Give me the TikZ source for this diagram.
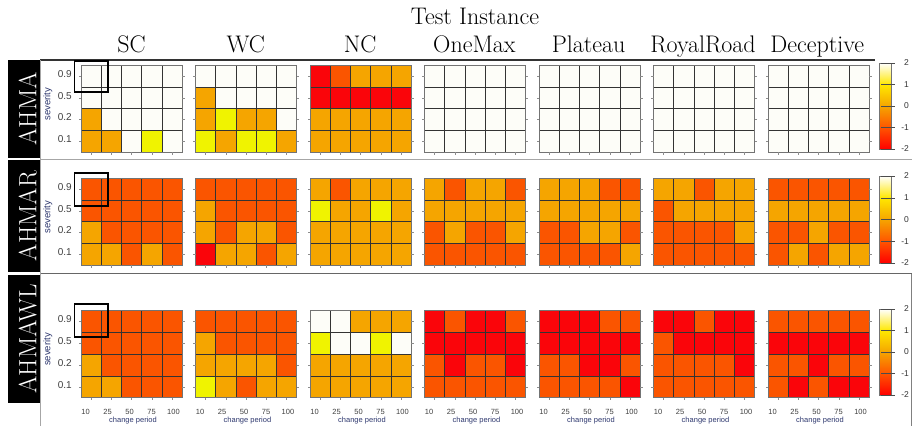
\documentclass[tikz,border=0pt]{standalone}
\usepackage{fontspec}
\newfontfamily\labelfont{Liberation Sans}
\usetikzlibrary{positioning}

% cell colours: white, yellow, orange, red-orange, red
\definecolor{cW}{RGB}{253,253,248}
\definecolor{cY}{RGB}{240,243,0}
\definecolor{cO}{RGB}{245,165,0}
\definecolor{cR}{RGB}{250,85,0}
\definecolor{cD}{RGB}{250,5,10}
\definecolor{barA}{RGB}{255,0,0}
\definecolor{barB}{RGB}{255,85,0}
\definecolor{barC}{RGB}{245,165,0}
\definecolor{barD}{RGB}{255,232,0}
\definecolor{axisblue}{RGB}{45,55,110}

\tikzset{
    cell/.style={draw=black!80, line width=0.6pt},
    frame/.style={draw=black!55, line width=1pt},
    tickmark/.style={draw=black!45, line width=0.4pt},
    title/.style={font=\fontsize{24}{26}\selectfont, anchor=base},
    header/.style={font=\fontsize{24}{26}\selectfont, anchor=base},
    rowlabel/.style={font=\fontsize{25}{27}\selectfont, text=white, rotate=90, inner sep=0pt, text depth=0pt},
    ticklabel/.style={font=\labelfont\fontsize{10}{11}\selectfont, text=black!75, inner sep=0pt},
    smalllabel/.style={font=\labelfont\fontsize{7.5}{8}\selectfont, text=black!75, inner sep=0pt},
    axislabel/.style={font=\labelfont\fontsize{7.5}{8}\selectfont, text=axisblue, inner sep=0pt},
    barlabel/.style={font=\labelfont\fontsize{8.5}{9}\selectfont, text=black!80, inner sep=0pt},
    highlight/.style={draw=black, line width=1.5pt},
}

% one 5x4 heat map: left x, top y, list of 20 cells (row by row, 0.9 first)
\newcommand{\heatpanel}[3]{%
    \foreach \cl [count=\k from 0] in #3 {
        \pgfmathtruncatemacro{\rr}{\k/5}
        \pgfmathtruncatemacro{\cc}{\k-5*\rr}
        \path[cell, fill=c\cl] ({#1+\cc*20.2},{#2+\rr*21.8}) rectangle ++(20.2,21.8);
    }
    \draw[frame] (#1,#2) rectangle ++(101,87.2);
    \foreach \j in {0,...,4} {
        \draw[tickmark] ({#1+10.1+\j*20.2},{#2+87.2}) -- ++(0,2.5);
    }
    \foreach \i in {0,...,3} {
        \draw[tickmark] (#1,{#2+10.9+\i*21.8}) -- ++(-2.5,0);
        \draw[tickmark] ({#1+101},{#2+10.9+\i*21.8}) -- ++(2.5,0);
    }
}

% colour bar: top y, bottom y, row id
\newcommand{\colorbarat}[3]{%
    \pgfmathsetmacro{\seg}{(#2-#1)/4}
    \shade[bottom color=barA, top color=barB] (879,{#2}) rectangle (891,{#2-\seg});
    \shade[bottom color=barB, top color=barC] (879,{#2-\seg}) rectangle (891,{#2-2*\seg});
    \shade[bottom color=barC, top color=barD] (879,{#2-2*\seg}) rectangle (891,{#2-3*\seg});
    \shade[bottom color=barD, top color=white] (879,{#2-3*\seg}) rectangle (891,{#1});
    \draw[black!55, line width=0.6pt] (879,#1) rectangle (891,#2);
    \foreach \v [count=\t from 0] in {2,1,0,-1,-2} {
        \draw[black!70, line width=0.5pt] (881,{#1+\t*\seg}) -- (895,{#1+\t*\seg});
        \node[barlabel, anchor=east] (bar-#3-\t) at (909,{#1+\t*\seg}) {\v};
    }
}

\begin{document}
\begin{tikzpicture}[x=1pt, y=-1pt]
    \useasboundingbox[fill=white] (0,0) rectangle (912,426);

    % titles
    \node[title] (title) at (475,24) {Test Instance};
    \foreach \t [count=\i from 0] in {SC,WC,NC,OneMax,Plateau,RoyalRoad,Deceptive} {
        \node[header] (head-\i) at ({131.5+\i*114.3},52) {\t};
    }

    % table rules
    \draw[black!80, line width=1.8pt] (40,60) -- (875,60);
    \draw[black!35, line width=0.8pt] (40,159.5) -- (912,159.5);
    \draw[black!60, line width=0.8pt] (40,273.5) -- (912,273.5);
    \draw[black!35, line width=0.8pt] (40.5,60) -- (40.5,426);
    \draw[black!50, line width=0.8pt] (911.5,273.5) -- (911.5,426);

    % row labels
    \fill[black] (8,60) rectangle (40,158);
    \fill[black] (8,160) rectangle (40,272);
    \fill[black] (8,275) rectangle (40,403);
    \node[rowlabel] (lab-1) at (27.5,109) {AHMA};
    \node[rowlabel] (lab-2) at (27.5,216) {AHMAR};
    \node[rowlabel] (lab-3) at (27.5,339) {AHMAWL};

    % AHMA
    \foreach \p/\cells in {
        0/{W,W,W,W,W, W,W,W,W,W, O,W,W,W,W, O,O,W,Y,W},
        1/{W,W,W,W,W, O,W,W,W,W, O,Y,O,O,W, Y,O,Y,Y,O},
        2/{D,R,O,O,O, D,D,D,D,D, O,O,O,O,O, O,O,O,O,O},
        3/{W,W,W,W,W, W,W,W,W,W, W,W,W,W,W, W,W,W,W,W},
        4/{W,W,W,W,W, W,W,W,W,W, W,W,W,W,W, W,W,W,W,W},
        5/{W,W,W,W,W, W,W,W,W,W, W,W,W,W,W, W,W,W,W,W},
        6/{W,W,W,W,W, W,W,W,W,W, W,W,W,W,W, W,W,W,W,W}} {
        \heatpanel{81+\p*114.5}{65}{\cells}
    }

    % AHMAR
    \foreach \p/\cells in {
        0/{R,R,R,R,R, R,R,R,R,R, O,R,R,R,R, O,O,R,O,R},
        1/{R,R,R,R,R, O,R,R,R,R, O,R,O,O,R, D,O,O,R,O},
        2/{O,R,O,O,O, Y,O,O,Y,O, O,O,O,O,O, O,O,O,O,O},
        3/{O,R,O,O,R, O,O,O,O,O, R,O,R,R,O, R,R,R,R,R},
        4/{O,O,O,R,R, O,O,O,O,O, R,R,O,O,R, R,R,R,R,O},
        5/{O,O,R,O,O, R,O,O,O,O, R,R,R,R,O, R,R,R,R,R},
        6/{R,R,R,R,R, O,O,O,O,O, R,R,O,R,R, R,O,R,O,O}} {
        \heatpanel{81+\p*114.5}{178}{\cells}
    }

    % AHMAWL
    \foreach \p/\cells in {
        0/{R,R,R,R,R, R,R,R,R,R, O,R,R,R,R, O,O,R,R,R},
        1/{R,R,R,R,R, O,R,R,R,R, O,O,O,O,R, Y,O,R,O,O},
        2/{W,W,O,O,O, Y,W,W,Y,W, O,O,O,O,O, O,O,O,O,O},
        3/{D,R,D,D,R, D,D,D,D,D, R,D,R,R,D, R,R,R,R,R},
        4/{D,D,D,R,R, D,D,D,D,D, R,R,D,D,R, R,R,R,R,D},
        5/{D,D,R,D,D, R,D,D,D,D, R,R,R,R,D, R,R,R,R,R},
        6/{R,R,R,R,R, D,D,D,D,D, R,R,D,R,R, R,D,R,D,D}} {
        \heatpanel{81+\p*114.5}{310.5}{\cells}
    }

    % severity axis (first column only)
    \foreach \r/\ytop in {1/65,2/178,3/310.5} {
        \node[axislabel, rotate=90, font=\labelfont\fontsize{9.5}{10}\selectfont] (sev-\r) at (48,{\ytop+39}) {severity};
        \foreach \s [count=\i from 0] in {0.9,0.5,0.2,0.1} {
            \node[ticklabel, anchor=east] (sevtick-\r-\i) at (72,{\ytop+8.9+\i*21.8}) {\s};
        }
    }

    % change period axis (bottom row only)
    \foreach \p in {0,...,6} {
        \foreach \cp [count=\j from 0] in {10,25,50,75,100} {
            \node[smalllabel] (cptick-\p-\j) at ({81+\p*114.5+4.5+\j*22},411.5) {\cp};
        }
        \node[axislabel] (cp-\p) at ({81+\p*114.5+52},421) {change period};
    }

    % marked cell
    \draw[highlight] (74.5,61) rectangle (108,92);
    \draw[highlight] (74.5,173) rectangle (108,206);
    \draw[highlight] (74.5,304) rectangle (108,337);

    % colour bars
    \colorbarat{63}{149}{1}
    \colorbarat{176}{263}{2}
    \colorbarat{309}{395}{3}
\end{tikzpicture}
\end{document}
